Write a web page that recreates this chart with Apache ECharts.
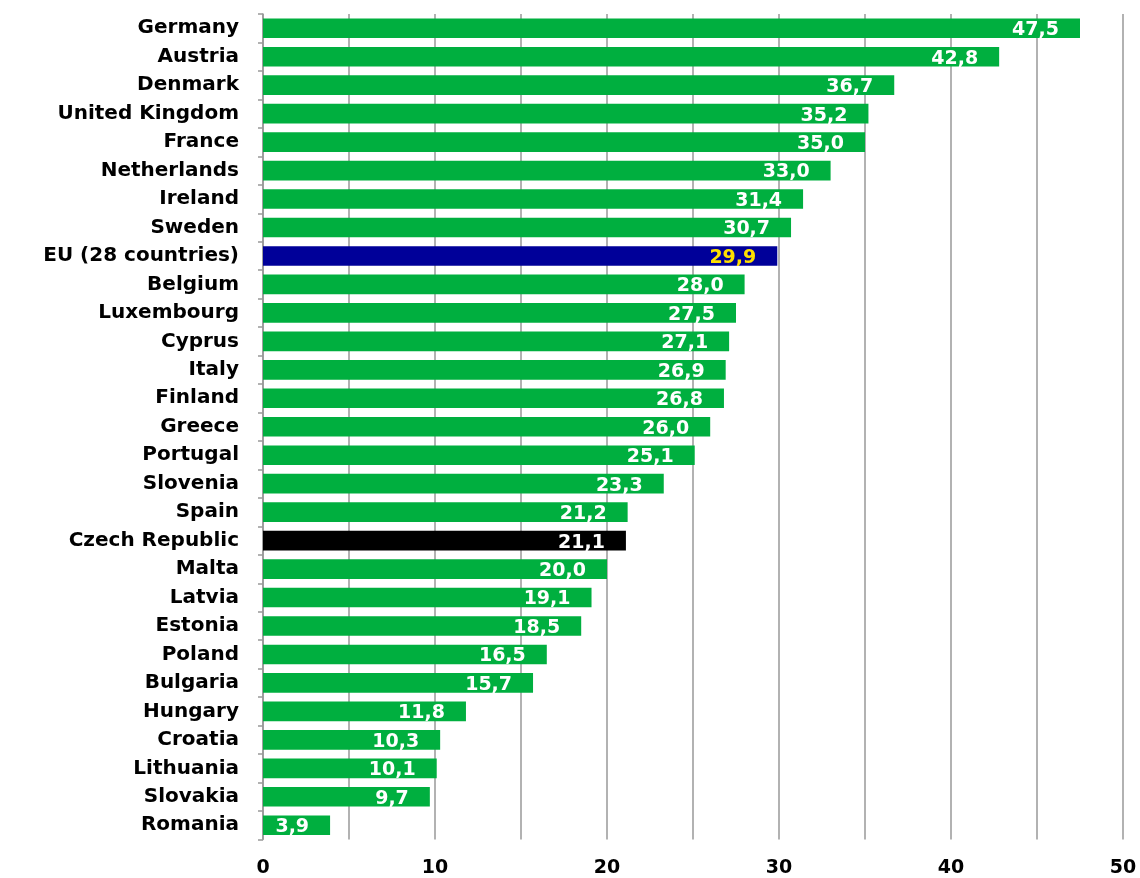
<!DOCTYPE html>
<html><head><meta charset="utf-8">
<script src="https://cdn.jsdelivr.net/npm/echarts@6/dist/echarts.min.js"></script>
<style>html,body{margin:0;padding:0;background:#fff}#c{width:1140px;height:878px}</style>
</head><body><div id="c"></div>
<script>
const categories = ["Germany","Austria","Denmark","United Kingdom","France","Netherlands","Ireland","Sweden","EU (28 countries)","Belgium","Luxembourg","Cyprus","Italy","Finland","Greece","Portugal","Slovenia","Spain","Czech Republic","Malta","Latvia","Estonia","Poland","Bulgaria","Hungary","Croatia","Lithuania","Slovakia","Romania"];
const values = [47.5,42.8,36.7,35.2,35.0,33.0,31.4,30.7,29.9,28.0,27.5,27.1,26.9,26.8,26.0,25.1,23.3,21.2,21.1,20.0,19.1,18.5,16.5,15.7,11.8,10.3,10.1,9.7,3.9];
const xTicks = [0,10,20,30,40,50];
const GREEN = '#00AF3F', EU_BLUE = '#000099', CZ_BLACK = '#000000';
const FONT = 'DejaVu Sans, Liberation Sans, Arial';
const data = values.map((v,i)=>{
  const c = categories[i];
  let color = GREEN, lab = '#ffffff';
  if (c === 'EU (28 countries)') { color = EU_BLUE; lab = '#FFE000'; }
  if (c === 'Czech Republic') { color = CZ_BLACK; }
  return {value:v, itemStyle:{color}, label:{color:lab}};
});
const chart = echarts.init(document.getElementById('c'));
chart.setOption({
  animation:false,
  grid:{left:263,right:17,top:14,bottom:38.5,containLabel:false},
  xAxis:{type:'value',min:0,max:50,interval:5,
    axisLine:{show:false},axisTick:{show:false},
    splitLine:{show:true,lineStyle:{color:'#999999',width:1.5}},
    axisLabel:{margin:19,fontFamily:FONT,fontWeight:'bold',fontSize:19,color:'#000',
      formatter:v=> xTicks.includes(v)?String(v):''}},
  yAxis:{type:'category',data:categories,inverse:true,
    axisLine:{show:true,lineStyle:{color:'#999999',width:1.5}},
    axisTick:{show:true,length:5,lineStyle:{color:'#999999',width:1.5}},
    axisLabel:{margin:24,padding:[4,0,0,0],fontFamily:FONT,fontWeight:'bold',fontSize:20,color:'#000'}},
  series:[{type:'bar',data:data,barWidth:'69%',
    label:{show:true,position:'insideRight',distance:21,offset:[0,2],
      fontFamily:FONT,fontWeight:'bold',fontSize:19,
      formatter:p=>p.value.toFixed(1).replace('.',',')}}]
});
</script></body></html>
